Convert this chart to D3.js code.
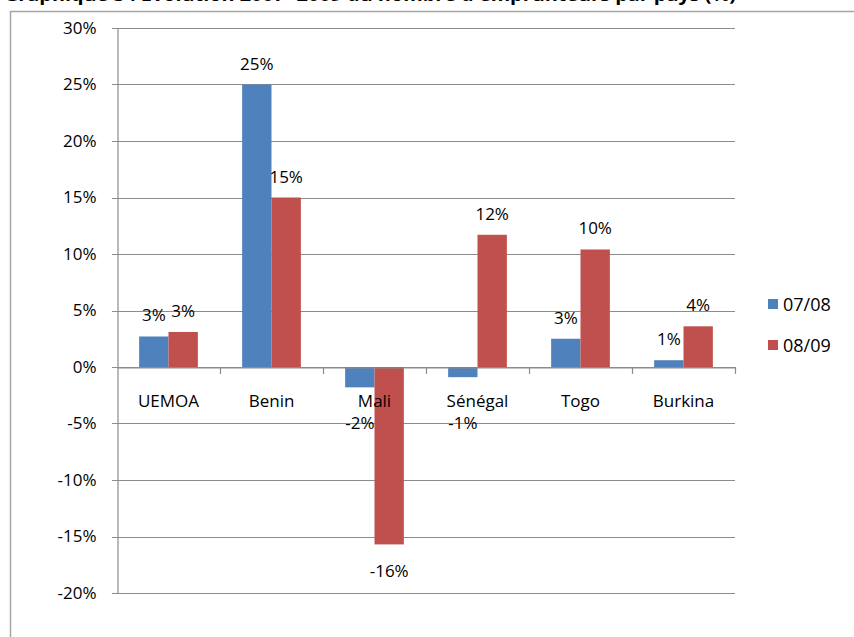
<!DOCTYPE html>
<html>
<head>
<meta charset="utf-8">
<script src="https://cdn.jsdelivr.net/npm/d3@7"></script>
<style>
  html, body { margin: 0; padding: 0; background: #fff; }
  svg { display: block; font-family: "Open Sans", "Liberation Sans", sans-serif; }
</style>
</head>
<body>
<svg id="chart" width="854" height="637"></svg>
<script>
// Évolution du nombre d'emprunteurs par pays (%)
const categories = ["UEMOA", "Benin", "Mali", "Sénégal", "Togo", "Burkina"];
const seriesNames = ["07/08", "08/09"];
const values0708 = [2.7, 25, -1.8, -0.9, 2.5, 0.6];
const values0809 = [3.1, 15, -15.7, 11.7, 10.4, 3.6];
const yTicks = [30, 25, 20, 15, 10, 5, 0, -5, -10, -15, -20];
const titleText = "Graphique 3 : Evolution 2007- 2009 du nombre d'emprunteurs par pays (%)";

const colors = ["#4F81BD", "#C0504D"];
const series = [values0708, values0809];
const fontSize = 17;

const svg = d3.select("#chart");

// Title (partly above the visible area)
svg.append("text")
  .attr("x", 4).attr("y", 1)
  .attr("font-size", 17).attr("font-weight", "bold")
  .attr("textLength", 732).attr("lengthAdjust", "spacingAndGlyphs")
  .attr("fill", "#000")
  .text(titleText);

// Chart frame
svg.append("rect")
  .attr("x", 10.5).attr("y", 11.5)
  .attr("width", 900).attr("height", 700)
  .attr("fill", "none").attr("stroke", "#a6a6a6").attr("stroke-width", 1.5);

const plot = { left: 117, right: 735, top: 28, bottom: 593 };

const y = d3.scaleLinear().domain([-20, 30]).range([plot.bottom, plot.top]);
const x0 = d3.scaleBand().domain(categories).range([plot.left, plot.right]).paddingInner(0.43).paddingOuter(0.215);
const x1 = d3.scaleBand().domain(d3.range(series.length)).range([0, x0.bandwidth()]);
const xCat = d3.scaleBand().domain(categories).range([plot.left, plot.right]);

// Horizontal gridlines
svg.append("g").selectAll("line").data(yTicks).join("line")
  .attr("x1", plot.left - 5).attr("x2", plot.right)
  .attr("y1", d => Math.round(y(d)) + 0.5).attr("y2", d => Math.round(y(d)) + 0.5)
  .attr("stroke", "#8c8c8c").attr("stroke-width", 1.2);

// Y axis
const yAxis = d3.axisLeft(y).tickValues(yTicks).tickFormat(d => d + "%").tickSize(0).tickPadding(21);
const gy = svg.append("g").attr("transform", `translate(${plot.left + 0.5},0)`).call(yAxis);
gy.select(".domain").attr("stroke", "#8c8c8c").attr("stroke-width", 1.2);
gy.selectAll("text").attr("font-size", fontSize).attr("fill", "#000").attr("font-family", "Open Sans, sans-serif");

// Bars
series.forEach((vals, si) => {
  svg.append("g").selectAll("rect").data(vals).join("rect")
    .attr("x", (d, i) => x0(categories[i]) + x1(si))
    .attr("width", x1.bandwidth())
    .attr("y", d => y(Math.max(0, d)))
    .attr("height", d => Math.abs(y(d) - y(0)))
    .attr("fill", colors[si]);
});

// Category axis at zero
const xAxis = d3.axisBottom(xCat).tickSize(0).tickPadding(27);
const gx = svg.append("g").attr("transform", `translate(0,${Math.round(y(0)) + 0.5})`).call(xAxis);
gx.select(".domain").attr("stroke", "#8c8c8c").attr("stroke-width", 1.2);
gx.selectAll("text").attr("font-size", fontSize).attr("fill", "#000").attr("font-family", "Open Sans, sans-serif");
// tick marks between categories
svg.append("g").selectAll("line").data(categories).join("line")
  .attr("x1", (d, i) => Math.round(plot.left + xCat.step() * (i + 1)) + 0.5)
  .attr("x2", (d, i) => Math.round(plot.left + xCat.step() * (i + 1)) + 0.5)
  .attr("y1", y(0)).attr("y2", y(0) + 7)
  .attr("stroke", "#8c8c8c").attr("stroke-width", 1.2);

// Data labels: above positive bars, below negative bars (clear of category names)
series.forEach((vals, si) => {
  svg.append("g").selectAll("text").data(vals).join("text")
    .attr("x", (d, i) => x0(categories[i]) + x1(si) + x1.bandwidth() / 2)
    .attr("y", d => d >= 0 ? y(d) - 15 : Math.max(y(d) + 33, y(0) + 62))
    .attr("text-anchor", "middle")
    .attr("font-size", fontSize).attr("fill", "#000")
    .text(d => Math.round(d) + "%");
});

// Legend
const legend = svg.append("g").attr("transform", "translate(768,299)");
seriesNames.forEach((name, i) => {
  const g = legend.append("g").attr("transform", `translate(0,${i * 41})`);
  g.append("rect").attr("width", 10).attr("height", 10).attr("fill", colors[i]);
  g.append("text").attr("x", 15).attr("y", 12).attr("font-size", 18).attr("fill", "#000").text(name);
});
</script>
</body>
</html>
